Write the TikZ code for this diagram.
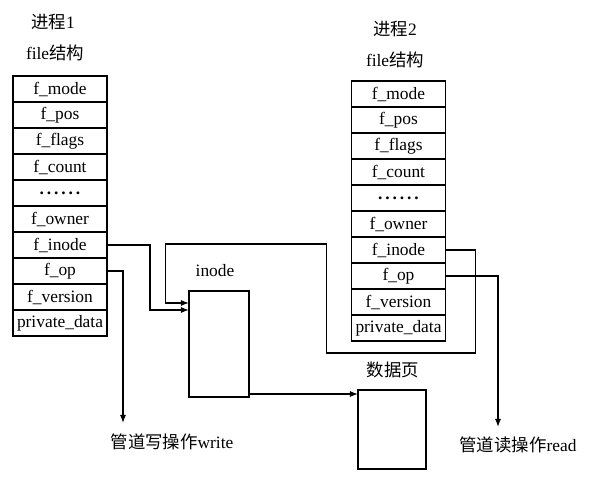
\documentclass[tikz,border=0pt]{standalone}
\usepackage{fontspec}
\setmainfont{Liberation Serif}
\newfontfamily\cjk{Noto Sans CJK SC}
\usetikzlibrary{arrows.meta,positioning,calc}

\begin{document}
\begin{tikzpicture}[
    x=0.5pt, y=-0.5pt,
    font=\fontsize{8.7}{10}\selectfont,
    >={Latex[length=4pt,width=3pt]},
    line width=0.6pt,
    field/.style={rectangle, draw, minimum width=47pt, minimum height=13pt, inner sep=0pt, outer sep=0pt},
    box/.style={rectangle, draw, inner sep=0pt, outer sep=0pt}
]
    \useasboundingbox (0,0) rectangle (591,481);

    % file structure of process 1
    \node (t1) at (53,22) {{\cjk 进程}1};
    \node (s1) at (55,53) {file{\cjk 结构}};
    \node[field] (a-mode) at (60,89) {f\_mode};
    \node[field, below=0pt of a-mode] (a-pos) {f\_pos};
    \node[field, below=0pt of a-pos] (a-flags) {f\_flags};
    \node[field, below=0pt of a-flags] (a-count) {f\_count};
    \node[field, below=0pt of a-count] (a-dots) {\textbf{.\,.\,.\,.\,.\,.}};
    \node[field, below=0pt of a-dots] (a-owner) {f\_owner};
    \node[field, below=0pt of a-owner] (a-inode) {f\_inode};
    \node[field, below=0pt of a-inode] (a-op) {f\_op};
    \node[field, below=0pt of a-op] (a-version) {f\_version};
    \node[field, below=0pt of a-version] (a-priv) {private\_data};

    % file structure of process 2
    \node (t2) at (395,29) {{\cjk 进程}2};
    \node (s2) at (395,60) {file{\cjk 结构}};
    \node[field] (b-mode) at (398.5,94) {f\_mode};
    \node[field, below=0pt of b-mode] (b-pos) {f\_pos};
    \node[field, below=0pt of b-pos] (b-flags) {f\_flags};
    \node[field, below=0pt of b-flags] (b-count) {f\_count};
    \node[field, below=0pt of b-count] (b-dots) {\textbf{.\,.\,.\,.\,.\,.}};
    \node[field, below=0pt of b-dots] (b-owner) {f\_owner};
    \node[field, below=0pt of b-owner] (b-inode) {f\_inode};
    \node[field, below=0pt of b-inode] (b-op) {f\_op};
    \node[field, below=0pt of b-op] (b-version) {f\_version};
    \node[field, below=0pt of b-version] (b-priv) {private\_data};

    % inode and data page
    \node[box, minimum width=30pt, minimum height=53pt] (inode) at (219,344) {};
    \node (inodelbl) at (215,271) {inode};
    \node[box, minimum width=34pt, minimum height=39.5pt] (data) at (392,429.5) {};
    \node (datalbl) at (393,370) {\cjk 数据页};

    % pipe operations
    \node (wr) at (172,442) {{\cjk 管道写操作}write};
    \node (rd) at (518,445) {{\cjk 管道读操作}read};
    \coordinate (wend) at (123,423);
    \coordinate (rend) at (498,427);

    \draw[->] (a-inode.east) -- ++(43,0) |- ($(inode.north west)+(0,19)$);
    \draw[->] (b-inode.east) -- ++(30,0) -- ++(0,103) -- ++(-149,0) -- ++(0,-109) -- ++(-161,0)
        |- ($(inode.north west)+(0,12)$);
    \draw[->] (a-op.east) -| (wend);
    \draw[->] (b-op.east) -| (rend);
    \draw[->] ($(inode.south east)+(0,-3)$) -- ($(data.north west)+(0,4)$);
\end{tikzpicture}
\end{document}
